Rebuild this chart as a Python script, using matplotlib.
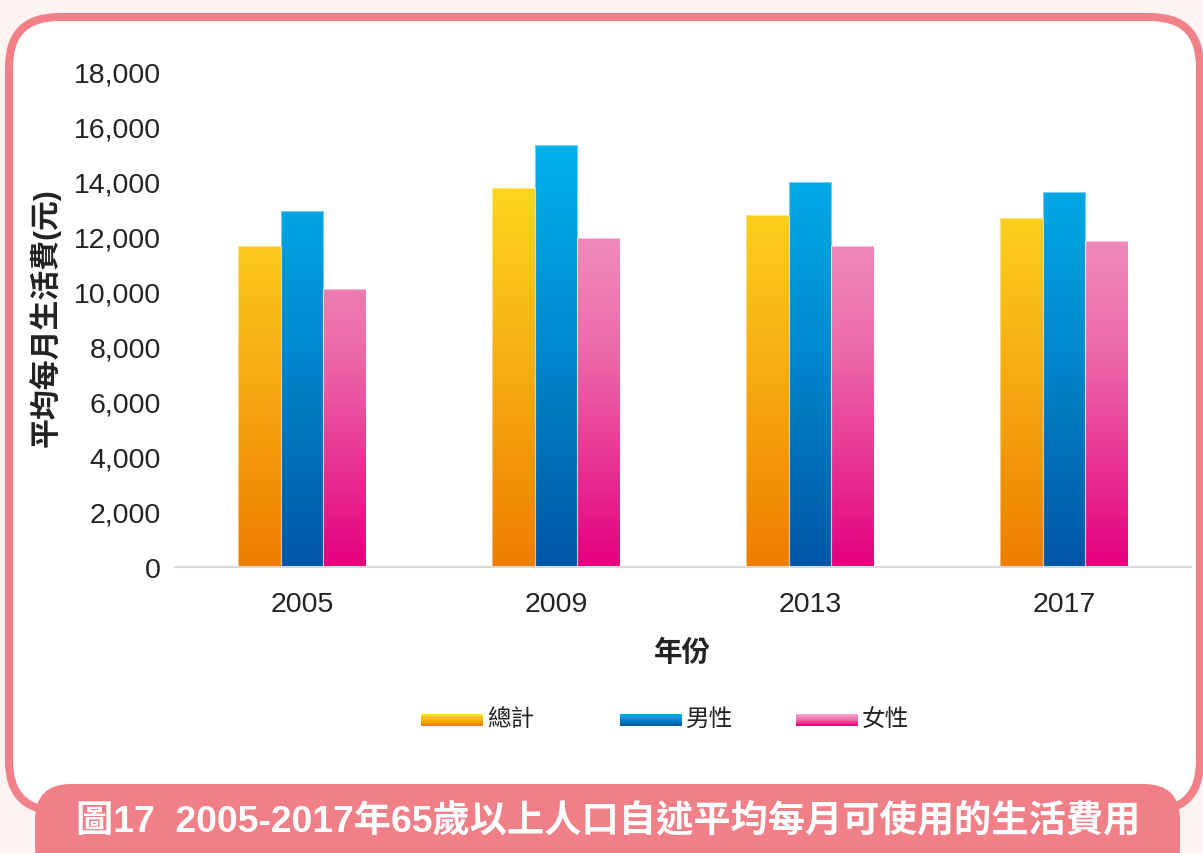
import numpy as np
import matplotlib
matplotlib.use("Agg")
import matplotlib.pyplot as plt
from matplotlib.colors import LinearSegmentedColormap
from matplotlib.patches import FancyBboxPatch

# data
years = ["2005", "2009", "2013", "2017"]
series_names = ["總計", "男性", "女性"]
total = [11660, 13770, 12810, 12690]
male = [12950, 15350, 14000, 13650]
female = [10100, 11950, 11660, 11860]
yticks = [0, 2000, 4000, 6000, 8000, 10000, 12000, 14000, 16000, 18000]

ylabel = "平均每月生活費(元)"
xlabel = "年份"
title = "圖17  2005-2017年65歲以上人口自述平均每月可使用的生活費用"

grads = [
    ["#ee7d00", "#f7b114", "#ffe221"],
    ["#0056a5", "#0088cc", "#00b3ee"],
    ["#e4007e", "#ec6aa9", "#f3a8ca"],
]
GMAX = 15600

FONT = ["Liberation Sans", "Noto Sans CJK TC", "DejaVu Sans"]
plt.rcParams["font.family"] = FONT

W, H = 1203, 854
fig = plt.figure(figsize=(W / 100, H / 100), dpi=100)
fig.patch.set_facecolor("#fdf3f2")

# frame: rounded white box + banner (in inches, from bottom)
box = FancyBboxPatch((9 / 100, (H - 812) / 100), (1200 - 9) / 100, (812 - 18) / 100,
                     boxstyle="round,pad=0,rounding_size=0.5",
                     transform=fig.dpi_scale_trans, facecolor="white",
                     edgecolor="#f28088", linewidth=5.8, zorder=-2)
fig.patches.append(box)
banner = FancyBboxPatch((35 / 100, -0.3), (1180 - 35) / 100, (H - 785) / 100 + 0.3,
                        boxstyle="round,pad=0,rounding_size=0.36",
                        transform=fig.dpi_scale_trans, facecolor="#f17f87",
                        edgecolor="none", zorder=-1)
fig.patches.append(banner)
fig.text(608 / W, 1 - 822 / H, title, color="white", fontsize=26.8,
         fontweight="bold", ha="center", va="center")

ax = fig.add_axes([175 / W, 1 - 568 / H, (1191 - 175) / W, (568 - 73) / H])
ax.set_facecolor("none")

x = np.arange(len(years))
bw = 0.167
grad_img = np.linspace(0, 1, 256).reshape(-1, 1)
for i, vals in enumerate([total, male, female]):
    cmap = LinearSegmentedColormap.from_list("g%d" % i, grads[i])
    bars = ax.bar(x + (i - 1) * bw, vals, bw, facecolor="none",
                  edgecolor=(1, 1, 1, 0.45), linewidth=0.8, zorder=3)
    for b in bars:
        x0 = b.get_x()
        im = ax.imshow(grad_img, cmap=cmap, origin="lower", aspect="auto",
                       extent=(x0, x0 + b.get_width(), 0, GMAX), zorder=2)
        im.set_clip_path(b)

ax.set_xlim(-0.5, len(years) - 0.5)
ax.set_ylim(0, 18000)
ax.set_xticks(x)
ax.set_xticklabels(years)
ax.set_yticks(yticks)
ax.set_yticklabels(["{:,}".format(v) for v in yticks])
ax.tick_params(length=0, labelsize=20.5, colors="#222222")
ax.tick_params(axis="x", pad=17)
ax.tick_params(axis="y", pad=10)
for s in ["top", "right", "left"]:
    ax.spines[s].set_visible(False)
ax.spines["bottom"].set_color("#d9d9d9")
ax.spines["bottom"].set_linewidth(1.5)

fig.text(682 / W, 1 - 653 / H, xlabel, fontsize=20.5, fontweight="bold",
         color="#222222", ha="center", va="center")
fig.text(45 / W, 1 - 318 / H, ylabel, fontsize=21.5, fontweight="bold",
         color="#222222", ha="center", va="center", rotation=90)

# legend with gradient swatches
leg_x = [421, 620, 796]
for i, name in enumerate(series_names):
    cmap = LinearSegmentedColormap.from_list("l%d" % i, grads[i])
    lax = fig.add_axes([leg_x[i] / W, 1 - 727 / H, 62 / W, 12 / H])
    lax.imshow(np.linspace(0.2, 1, 32).reshape(-1, 1), cmap=cmap,
               origin="lower", aspect="auto")
    lax.set_axis_off()
    fig.text((leg_x[i] + 66) / W, 1 - 720 / H, name, fontsize=17,
             fontweight="medium", color="#222222", ha="left", va="center")

fig.savefig("out.png", dpi=100, facecolor=fig.get_facecolor())
